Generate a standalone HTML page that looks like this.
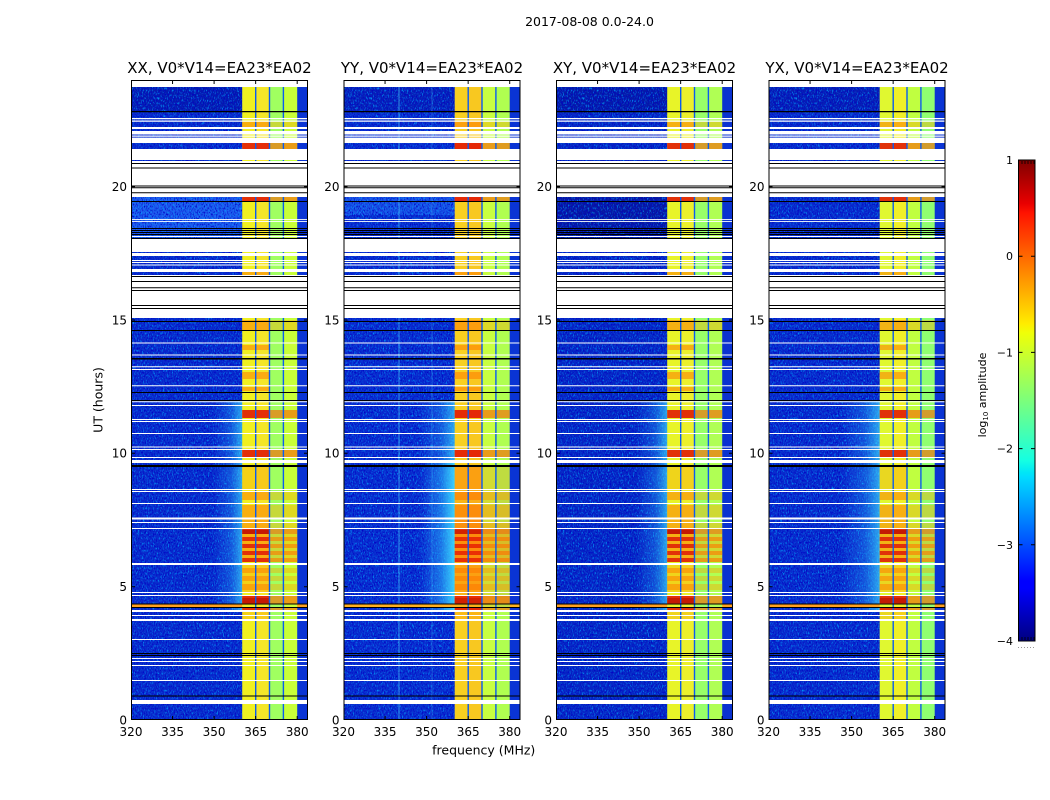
<!DOCTYPE html>
<html><head><meta charset="utf-8">
<style>
html,body{margin:0;padding:0;background:#fff;}
svg{display:block;font-family:"DejaVu Sans","Liberation Sans",sans-serif;}
</style></head>
<body>
<svg width="1050" height="800" viewBox="0 0 1050 800" xmlns="http://www.w3.org/2000/svg">
<defs>
<linearGradient id="jet" x1="0" y1="0" x2="0" y2="1">
<stop offset="0" stop-color="#800000"/><stop offset="0.09" stop-color="#e80000"/><stop offset="0.11" stop-color="#ff1300"/><stop offset="0.34" stop-color="#ffec00"/><stop offset="0.36" stop-color="#efff08"/><stop offset="0.625" stop-color="#15ffe2"/><stop offset="0.65" stop-color="#00e6f7"/><stop offset="0.66" stop-color="#00dbff"/><stop offset="0.875" stop-color="#0000ff"/><stop offset="0.89" stop-color="#0000ff"/><stop offset="1" stop-color="#000080"/>
</linearGradient>
<linearGradient id="glow" x1="0" y1="0" x2="1" y2="0">
<stop offset="0" stop-color="#30b0ff" stop-opacity="0"/><stop offset="0.6" stop-color="#30c0ff" stop-opacity="0.3"/><stop offset="1" stop-color="#40e0ff" stop-opacity="0.7"/>
</linearGradient>
<filter id="spk" x="0" y="0" width="1" height="1">
<feTurbulence type="fractalNoise" baseFrequency="0.8 0.4" numOctaves="2" seed="7"/>
<feColorMatrix type="matrix" values="0 0 0 0 0  0 0 0 0 0.4  0 0 0 0 1  3 0 0 0 -1.55"/>
</filter>
<filter id="dspk" x="0" y="0" width="1" height="1">
<feTurbulence type="fractalNoise" baseFrequency="0.9 0.5" numOctaves="2" seed="13"/>
<feColorMatrix type="matrix" values="0 0 0 0 0  0 0 0 0 0  0 0 0 0 0.55  3 0 0 0 -1.4"/>
</filter>

<g id="hot">
<path fill="#e00000" fill-opacity="0.8" d="M111.2 143h27.3v6h-27.3z M111.2 197h27.3v4h-27.3z M111.2 410h27.3v8h-27.3z M111.2 450h27.3v7h-27.3z M111.2 529h27.3v5h-27.3z M111.2 537h27.3v4h-27.3z M111.2 544h27.3v4h-27.3z M111.2 551h27.3v4h-27.3z M111.2 558h27.3v4h-27.3z M111.2 596h27.3v7.5h-27.3z M111.2 607h27.3v3h-27.3z"/>
<path fill="#a00000" fill-opacity="0.45" d="M111.2 530h27.3v4h-27.3z M111.2 598h27.3v5h-27.3z"/>
<path fill="#ff5a00" fill-opacity="0.6" d="M138.5 143h27.7v6h-27.7z M138.5 197h27.7v4h-27.7z M138.5 410h27.7v8h-27.7z M138.5 450h27.7v7h-27.7z M138.5 529h27.7v5h-27.7z M138.5 537h27.7v4h-27.7z M138.5 544h27.7v4h-27.7z M138.5 551h27.7v4h-27.7z M138.5 558h27.7v4h-27.7z M138.5 596h27.7v7.5h-27.7z M138.5 607h27.7v3h-27.7z"/>
<path fill="#ff7a00" fill-opacity="0.55" d="M111.2 121.7h27.3v5.3h-27.3z M111.2 272h27.3v3h-27.3z M111.2 320h27.3v10h-27.3z M111.2 345h27.3v5h-27.3z M111.2 372h27.3v7h-27.3z M111.2 387h27.3v4h-27.3z M111.2 492h27.3v8h-27.3z M111.2 505h27.3v12.5h-27.3z M111.2 519.5h27.3v2.5h-27.3z M111.2 523h27.3v5h-27.3z M111.2 534h27.3v3h-27.3z M111.2 541h27.3v3h-27.3z M111.2 548h27.3v3h-27.3z M111.2 555h27.3v3h-27.3z M111.2 568h27.3v5h-27.3z M111.2 576h27.3v5h-27.3z M111.2 584h27.3v6h-27.3z"/>
<path fill="#ff8a00" fill-opacity="0.3" d="M111.2 467h27.3v22h-27.3z M111.2 565h27.3v27h-27.3z M111.2 612h27.3v7h-27.3z"/>
<path fill="#ffa000" fill-opacity="0.4" d="M138.5 121.7h27.7v5.3h-27.7z M138.5 320h27.7v10h-27.7z M138.5 492h27.7v8h-27.7z M138.5 505h27.7v12.5h-27.7z M138.5 523h27.7v5h-27.7z M138.5 534h27.7v28h-27.7z M138.5 568h27.7v5h-27.7z M138.5 576h27.7v5h-27.7z M138.5 584h27.7v6h-27.7z"/>
</g>

<path id="seps" fill="#0a5cf0" d="M124 87h1.4v633h-1.4z M137.8 87h1.4v633h-1.4z M151.7 87h1.4v633h-1.4z"/>

<g id="wk">
<path fill="#ffffff" d="M0 80h177v7H0z M0 118h177v1.2H0z M0 120.5h177v1.2H0z M0 127h177v2H0z M0 131h177v3.5H0z M0 135.5h177v1.3H0z M0 137.6h177v5.4H0z M0 149h177v11H0z M0 161h177v36H0z M0 219h177v0.9H0z M0 221h177v0.9H0z M0 236h177v1H0z M0 239h177v13H0z M0 253h177v3H0z M0 260h177v1H0z M0 262h177v1H0z M0 264.5h177v1H0z M0 269h177v3H0z M0 275h177v43H0z M0 342.5h177v1H0z M0 354.5h177v1H0z M0 366.2h177v1H0z M0 369h177v1H0z M0 385.2h177v1H0z M0 401.2h177v1H0z M0 405h177v1H0z M0 419h177v1H0z M0 421h177v1H0z M0 433h177v1H0z M0 446.5h177v1H0z M0 449h177v1H0z M0 457h177v1H0z M0 460h177v3H0z M0 489h177v1H0z M0 491h177v1H0z M0 503h177v1H0z M0 517.5h177v2H0z M0 522h177v1H0z M0 528h177v1H0z M0 563h177v2H0z M0 592h177v1H0z M0 595h177v1H0z M0 610h177v2H0z M0 615h177v1H0z M0 619h177v2H0z M0 639h177v1H0z M0 658h177v1H0z M0 661h177v1H0z M0 665h177v1H0z M0 680h177v1H0z M0 700h177v4H0z"/>
<path fill="#000000" d="M0 111h177v1.3H0z M0 163h177v1H0z M0 167.5h177v1H0z M0 185.5h177v1H0z M0 187.3h177v1H0z M0 192.3h177v1H0z M0 201h177v1H0z M0 228h177v1H0z M0 230h177v1H0z M0 232h177v1H0z M0 234h177v1H0z M0 238h177v1H0z M0 276h177v1H0z M0 281h177v1H0z M0 287.3h177v1H0z M0 290h177v1H0z M0 305h177v1H0z M0 308h177v1H0z M0 321h177v1H0z M0 330h177v1H0z M0 358h177v1.5H0z M0 392h177v1H0z M0 400h177v1H0z M0 465h177v2H0z M0 603.5h177v1H0z M0 607h177v1H0z M0 653h177v1H0z M0 655h177v1H0z M0 695.5h177v1H0z"/>
</g>

<g id="frame" stroke="#000" fill="none" stroke-width="1">
<rect x="0.5" y="80.5" width="176" height="639"/>
<path d="M0 186.7h4M0 320h4M0 453.3h4M0 586.7h4M177 186.7h-4M177 320h-4M177 453.3h-4M177 586.7h-4M41.55 720v-4M83.1 720v-4M124.65 720v-4M166.2 720v-4M41.55 80v4M83.1 80v4M124.65 80v4M166.2 80v4"/>
</g>
</defs>

<text x="589.5" y="26" font-size="12.5" text-anchor="middle" fill="#000">2017-08-08 0.0-24.0</text>

<g transform="translate(131,0)">
<rect x="0" y="87" width="177" height="633" fill="#0a2ccc"/>
<rect x="0" y="87" width="111" height="24" fill="#061cb0"/>
<rect x="0" y="197" width="111" height="42" fill="#1f5ff0"/>
<rect x="0" y="87" width="177" height="633" filter="url(#spk)"/>
<rect x="0" y="87" width="177" height="633" filter="url(#dspk)"/>
<rect x="166" y="87" width="11" height="633" fill="#0a34d4"/>
<rect x="82" y="400" width="29.5" height="212" fill="url(#glow)"/>
<rect x="0" y="604.5" width="177" height="2.5" fill="#ffa020"/>
<rect x="111.2" y="87" width="13.5" height="633" fill="#f0f020"/>
<rect x="124.6" y="87" width="13.9" height="633" fill="#f4e628"/>
<rect x="138.5" y="87" width="13.9" height="633" fill="#a0ff60"/>
<rect x="152.3" y="87" width="13.9" height="633" fill="#c8ff38"/>
<use href="#hot"/><use href="#seps"/><use href="#wk"/><use href="#frame"/>
</g>

<g transform="translate(343.5,0)">
<rect x="0" y="87" width="177" height="633" fill="#0a2ecf"/>
<rect x="0" y="87" width="111" height="24" fill="#0820b8"/>
<rect x="0" y="197" width="111" height="18" fill="#1a56e8"/>
<rect x="0" y="87" width="177" height="633" filter="url(#spk)"/>
<rect x="0" y="87" width="177" height="633" filter="url(#dspk)"/>
<rect x="55" y="87" width="1" height="633" fill="#50d8ff" fill-opacity="0.6"/>
<rect x="88" y="87" width="1" height="633" fill="#50d8ff" fill-opacity="0.3"/>
<rect x="166" y="87" width="11" height="633" fill="#0a34d4"/>
<rect x="74" y="400" width="37.5" height="212" fill="url(#glow)"/>
<rect x="80" y="460" width="31.5" height="150" fill="url(#glow)"/>
<rect x="0" y="604.5" width="177" height="2.5" fill="#ffb020"/>
<rect x="111.2" y="87" width="13.5" height="633" fill="#f8d020"/>
<rect x="124.6" y="87" width="13.9" height="633" fill="#f8c820"/>
<rect x="138.5" y="87" width="13.9" height="633" fill="#c8ff40"/>
<rect x="152.3" y="87" width="13.9" height="633" fill="#b0ff50"/>
<use href="#hot"/>
<rect x="111.2" y="467" width="55" height="140" fill="#ff5000" fill-opacity="0.2"/>
<use href="#seps"/><use href="#wk"/><use href="#frame"/>
</g>

<g transform="translate(556,0)">
<rect x="0" y="87" width="177" height="633" fill="#0828c4"/>
<rect x="0" y="87" width="111" height="24" fill="#061aa8"/>
<rect x="0" y="197" width="111" height="42" fill="#0818a0"/>
<rect x="0" y="87" width="177" height="633" filter="url(#spk)"/>
<rect x="0" y="87" width="177" height="633" filter="url(#dspk)"/>
<rect x="166" y="87" width="11" height="633" fill="#0a32d0"/>
<rect x="80" y="400" width="31.5" height="212" fill="url(#glow)"/>
<rect x="0" y="604.5" width="177" height="2.5" fill="#ffa020"/>
<rect x="111.2" y="87" width="13.5" height="633" fill="#e8f428"/>
<rect x="124.6" y="87" width="13.9" height="633" fill="#ecf02c"/>
<rect x="138.5" y="87" width="13.9" height="633" fill="#98ff68"/>
<rect x="152.3" y="87" width="13.9" height="633" fill="#b0ff54"/>
<use href="#hot"/><use href="#seps"/><use href="#wk"/><use href="#frame"/>
</g>

<g transform="translate(768.5,0)">
<rect x="0" y="87" width="177" height="633" fill="#0a2ccc"/>
<rect x="0" y="87" width="111" height="24" fill="#081eb4"/>
<rect x="0" y="87" width="177" height="633" filter="url(#spk)"/>
<rect x="0" y="87" width="177" height="633" filter="url(#dspk)"/>
<rect x="166" y="87" width="11" height="633" fill="#0a34d4"/>
<rect x="72" y="400" width="39.5" height="212" fill="url(#glow)"/>
<rect x="0" y="604.5" width="177" height="2.5" fill="#ffa020"/>
<rect x="111.2" y="87" width="13.5" height="633" fill="#e0f830"/>
<rect x="124.6" y="87" width="13.9" height="633" fill="#f0f028"/>
<rect x="138.5" y="87" width="13.9" height="633" fill="#c0ff40"/>
<rect x="152.3" y="87" width="13.9" height="633" fill="#90ff70"/>
<use href="#hot"/><use href="#seps"/><use href="#wk"/><use href="#frame"/>
</g>

<g font-size="15" text-anchor="middle" fill="#000">
<text x="219.5" y="73">XX, V0*V14=EA23*EA02</text>
<text x="432" y="73">YY, V0*V14=EA23*EA02</text>
<text x="644.5" y="73">XY, V0*V14=EA23*EA02</text>
<text x="857" y="73">YX, V0*V14=EA23*EA02</text>
</g>

<g font-size="12" text-anchor="end" fill="#000">
<text x="127" y="724.4">0</text><text x="127" y="591.1">5</text><text x="127" y="457.7">10</text><text x="127" y="324.4">15</text><text x="127" y="191.1">20</text>
<text x="339.5" y="724.4">0</text><text x="339.5" y="591.1">5</text><text x="339.5" y="457.7">10</text><text x="339.5" y="324.4">15</text><text x="339.5" y="191.1">20</text>
<text x="552" y="724.4">0</text><text x="552" y="591.1">5</text><text x="552" y="457.7">10</text><text x="552" y="324.4">15</text><text x="552" y="191.1">20</text>
<text x="764.5" y="724.4">0</text><text x="764.5" y="591.1">5</text><text x="764.5" y="457.7">10</text><text x="764.5" y="324.4">15</text><text x="764.5" y="191.1">20</text>
</g>

<g font-size="12" text-anchor="middle" fill="#000">
<text x="131" y="736">320</text><text x="172.55" y="736">335</text><text x="214.1" y="736">350</text><text x="255.65" y="736">365</text><text x="297.2" y="736">380</text>
<text x="343.5" y="736">320</text><text x="385.05" y="736">335</text><text x="426.6" y="736">350</text><text x="468.15" y="736">365</text><text x="509.7" y="736">380</text>
<text x="556" y="736">320</text><text x="597.55" y="736">335</text><text x="639.1" y="736">350</text><text x="680.65" y="736">365</text><text x="722.2" y="736">380</text>
<text x="768.5" y="736">320</text><text x="810.05" y="736">335</text><text x="851.6" y="736">350</text><text x="893.15" y="736">365</text><text x="934.7" y="736">380</text>
</g>

<text x="483.7" y="754.5" font-size="12.5" text-anchor="middle" fill="#000">frequency (MHz)</text>
<text transform="translate(102.5,400) rotate(-90)" font-size="12.5" text-anchor="middle" fill="#000">UT (hours)</text>

<rect x="1018.5" y="160" width="16.5" height="481" fill="url(#jet)" stroke="#000" stroke-width="1"/>
<path stroke="#000" stroke-width="1" d="M1018.5 256.2h4M1035 256.2h-4M1018.5 352.4h4M1035 352.4h-4M1018.5 448.6h4M1035 448.6h-4M1018.5 544.8h4M1035 544.8h-4"/>
<path stroke="#000" stroke-width="0.8" d="M1022 161v3M1025 161v3M1028 161v3M1031 161v3M1034 161v3M1022 640v-3M1025 640v-3M1028 640v-3M1031 640v-3M1034 640v-3"/>
<path d="M1018 647.5h17" stroke="#999" stroke-width="1" stroke-dasharray="1,2"/>
<g font-size="11" text-anchor="end" fill="#000">
<text x="1013" y="164">1</text><text x="1013" y="260.2">0</text><text x="1013" y="356.4">−1</text><text x="1013" y="452.6">−2</text><text x="1013" y="548.8">−3</text><text x="1013" y="645">−4</text>
</g>
<text transform="translate(986,395) rotate(-90)" font-size="11" text-anchor="middle" fill="#000">log<tspan font-size="7" dy="2">10</tspan><tspan dy="-2"> amplitude</tspan></text>
</svg>
</body></html>
